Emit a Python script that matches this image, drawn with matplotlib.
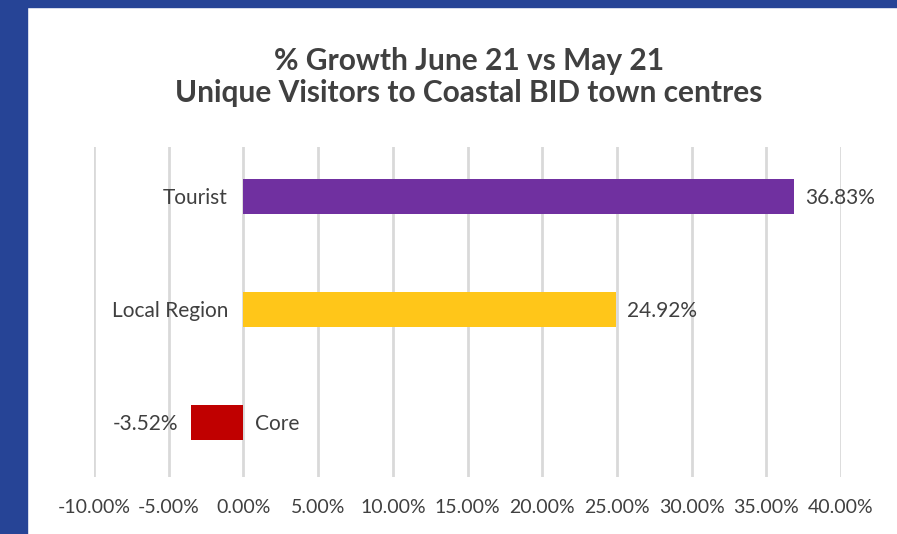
import matplotlib
matplotlib.use("Agg")
from matplotlib import pyplot as plt
from matplotlib.patches import Rectangle
from matplotlib.ticker import FuncFormatter

categories = ["Core", "Local Region", "Tourist"]
growth = [-3.52, 24.92, 36.83]
bar_colors = ["#C00000", "#FFC619", "#7030A0"]
x_ticks = [-10, -5, 0, 5, 10, 15, 20, 25, 30, 35, 40]

text_color = "#404040"
plt.rcParams["font.family"] = ["Lato", "DejaVu Sans"]

fig = plt.figure(figsize=(8.97, 5.34), dpi=100)
fig.patch.set_facecolor("white")

# blue frame on the left and top
fig.add_artist(Rectangle((0, 0), 27 / 897, 1, transform=fig.transFigure, color="#264496", zorder=0))
fig.add_artist(Rectangle((0, 1 - 7 / 534), 1, 7 / 534, transform=fig.transFigure, color="#264496", zorder=0))

ax = fig.add_axes([94 / 897, 57 / 534, 747 / 897, 330 / 534])
ypos = list(range(len(categories)))
ax.barh(ypos, growth, height=0.31, color=bar_colors, zorder=3)

ax.set_xlim(-10, 40)
ax.set_ylim(-0.478, 2.442)
ax.set_xticks(x_ticks)
ax.xaxis.set_major_formatter(FuncFormatter(lambda v, _: f"{v:.2f}%"))
ax.tick_params(axis="x", length=0, pad=16, labelsize=14, labelcolor=text_color)
ax.set_yticks([])
ax.grid(axis="x", color="#d9d9d9", linewidth=2, zorder=0)
for s in ax.spines.values():
    s.set_visible(False)

for y, v, name in zip(ypos, growth, categories):
    if v >= 0:
        ax.annotate(f"{v:.2f}%", (v, y), xytext=(8, -1), textcoords="offset points",
                    ha="left", va="center", fontsize=15, color=text_color)
        ax.annotate(name, (0, y), xytext=(-11, -1), textcoords="offset points",
                    ha="right", va="center", fontsize=15, color=text_color)
    else:
        ax.annotate(f"{v:.2f}%", (v, y), xytext=(-9, -1), textcoords="offset points",
                    ha="right", va="center", fontsize=15, color=text_color)
        ax.annotate(name, (0, y), xytext=(8, -1), textcoords="offset points",
                    ha="left", va="center", fontsize=15, color=text_color)

fig.text(469 / 897, 1 - 77 / 534, "% Growth June 21 vs May 21\nUnique Visitors to Coastal BID town centres",
         ha="center", va="center", fontsize=21.5, fontweight="bold", color=text_color, linespacing=1.2)

fig.savefig("out.png", dpi=100)
